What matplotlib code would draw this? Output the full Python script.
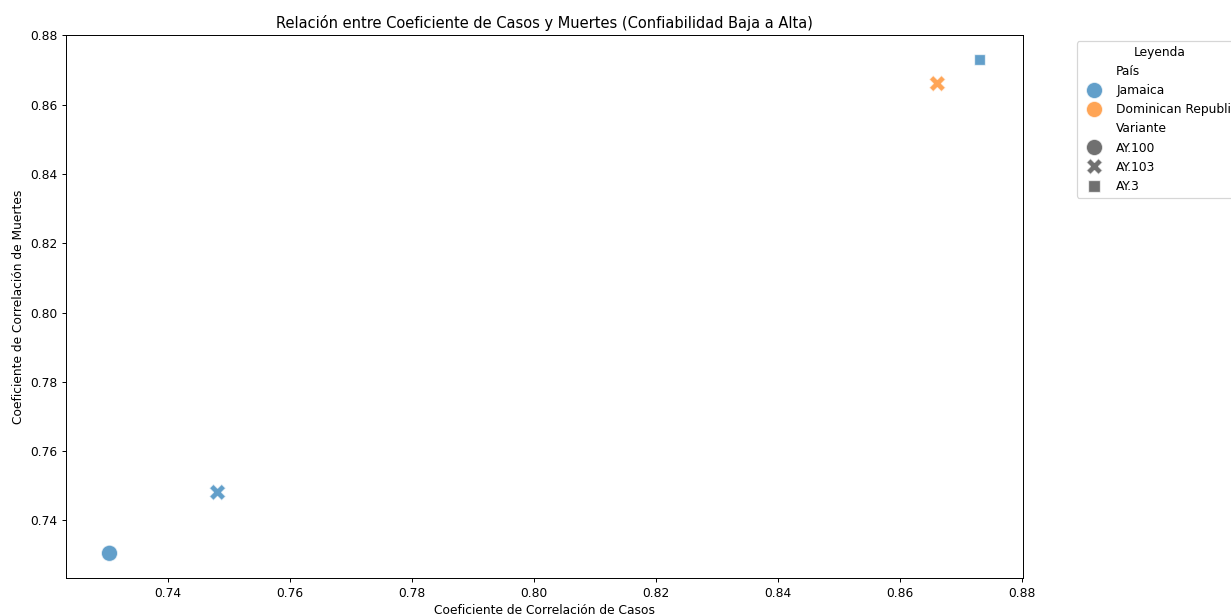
import matplotlib
matplotlib.use("Agg")
import matplotlib.pyplot as plt
import seaborn as sns
import pandas as pd

paises = ["Jamaica", "Jamaica", "Dominican Republic", "Jamaica"]
variantes = ["AY.100", "AY.103", "AY.103", "AY.3"]
coef_casos = [0.7305, 0.7482, 0.8661, 0.8730]
coef_muertes = [0.7305, 0.7481, 0.8661, 0.8730]

df = pd.DataFrame({
    "País": paises,
    "Variante": variantes,
    "casos": coef_casos,
    "muertes": coef_muertes,
})

dpi = 88
fig = plt.figure(figsize=(1231 / dpi, 614 / dpi), dpi=dpi)
ax = fig.add_axes([66 / 1231, 1 - 578 / 614, (1023 - 66) / 1231, (578 - 35) / 614])

sns.scatterplot(data=df, x="casos", y="muertes", hue="País", style="Variante",
                s=180, alpha=0.7, ax=ax)

ax.set_title("Relación entre Coeficiente de Casos y Muertes (Confiabilidad Baja a Alta)")
ax.set_xlabel("Coeficiente de Correlación de Casos")
ax.set_ylabel("Coeficiente de Correlación de Muertes")
ax.legend(title="Leyenda", bbox_to_anchor=(1.05, 1), loc="upper left")

fig.savefig("out.png", dpi=dpi)
